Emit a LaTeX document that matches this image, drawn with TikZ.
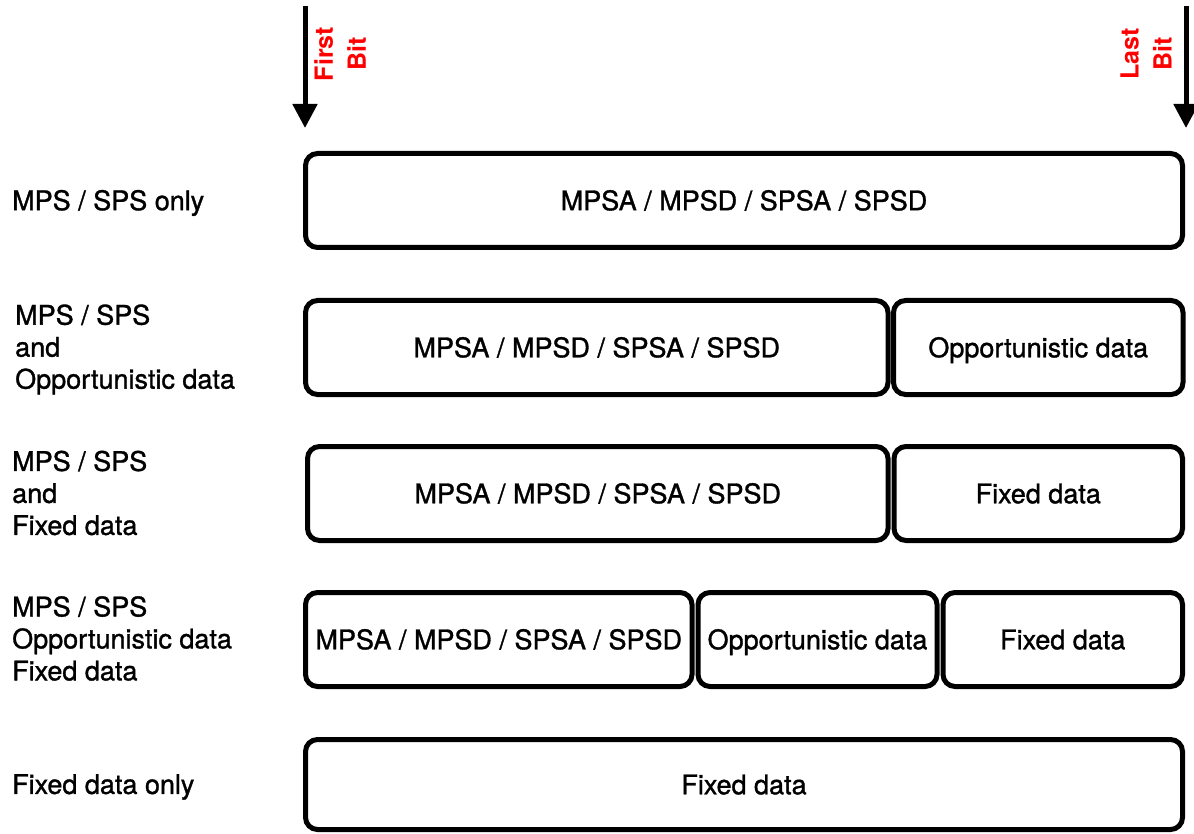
\documentclass[tikz,border=0pt]{standalone}
\usepackage{fontspec}
\setmainfont{TeX Gyre Heros}[FakeBold=1.2]
\newfontfamily\bitfont{TeX Gyre Heros Bold}
\usetikzlibrary{arrows.meta}
\begin{document}
\begin{tikzpicture}[x=1pt,y=-1pt,
  seg/.style={draw=black, line width=5pt, rounded corners=12pt, inner sep=0pt,
    text height=19.5pt, text depth=0pt,
    font=\fontsize{27}{32}\selectfont},
  rowlabel/.style={anchor=west, align=left, inner sep=0pt, font=\fontsize{27}{32}\selectfont},
  bitlabel/.style={text=red, rotate=90, align=center, inner sep=0pt,
    font=\fontsize{25}{33}\selectfont\bitfont},
  bitarrow/.style={line width=5pt, -{Triangle[width=24pt,length=24pt]}}]
\useasboundingbox (0,0) rectangle (1194,834);

% arrows
\coordinate (f0) at (305,6);
\coordinate (f1) at (305,128);
\coordinate (l0) at (1186,6);
\coordinate (l1) at (1186,128);
\draw[bitarrow] (f0) -- (f1);
\draw[bitarrow] (l0) -- (l1);
\node[bitlabel] (first) at (340,54) {First\\Bit};
\node[bitlabel] (last) at (1146,54) {Last\\Bit};

% row 1
\node[seg, minimum width=877pt, minimum height=94pt] (r1) at (744,200.5) {MPSA / MPSD / SPSA / SPSD};
\node[rowlabel] (t1) at (12,203) {MPS / SPS only};

% row 2
\node[seg, minimum width=582.5pt, minimum height=94pt] (r2a) at (596.75,347.5) {MPSA / MPSD / SPSA / SPSD};
\node[seg, minimum width=289.5pt, minimum height=94pt] (r2b) at (1038.25,347.5) {Opportunistic data};
\node[rowlabel] (t2) at (15,349.5) {MPS / SPS\\and\\Opportunistic data};

% row 3
\node[seg, minimum width=580.5pt, minimum height=94pt] (r3a) at (597.75,493.5) {MPSA / MPSD / SPSA / SPSD};
\node[seg, minimum width=288.5pt, minimum height=94pt] (r3b) at (1038.25,493.5) {Fixed data};
\node[rowlabel] (t3) at (12,493) {MPS / SPS\\and\\Fixed data};

% row 4
\node[seg, minimum width=386.5pt, minimum height=94pt] (r4a) at (498.75,639.5) {MPSA / MPSD / SPSA / SPSD};
\node[seg, minimum width=239pt, minimum height=94pt] (r4b) at (817.5,639.5) {Opportunistic data};
\node[seg, minimum width=239.5pt, minimum height=94pt] (r4c) at (1062.75,639.5) {Fixed data};
\node[rowlabel] (t4) at (12,638.5) {MPS / SPS\\Opportunistic data\\Fixed data};

% row 5
\node[seg, minimum width=877pt, minimum height=90pt] (r5) at (744,784.5) {Fixed data};
\node[rowlabel] (t5) at (12,787) {Fixed data only};
\end{tikzpicture}
\end{document}
